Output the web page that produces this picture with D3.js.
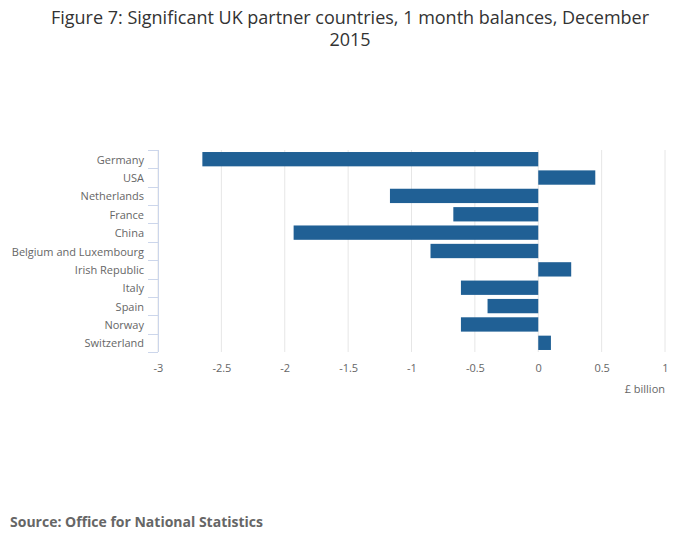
<!DOCTYPE html>
<html>
<head>
<meta charset="utf-8">
<script src="https://cdn.jsdelivr.net/npm/d3@7"></script>
<style>
  body { margin: 0; background: #fff; }
  text { font-family: "Open Sans", sans-serif; }
</style>
</head>
<body>
<svg id="chart" width="700" height="549"></svg>
<script>
// Data
var countries = ["Germany", "USA", "Netherlands", "France", "China",
  "Belgium and Luxembourg", "Irish Republic", "Italy", "Spain", "Norway", "Switzerland"];
var balances = [-2.65, 0.45, -1.17, -0.67, -1.93, -0.85, 0.26, -0.61, -0.40, -0.61, 0.10];
var xTicks = [-3, -2.5, -2, -1.5, -1, -0.5, 0, 0.5, 1];

var svg = d3.select("#chart");
var plot = {left: 158, right: 665, top: 150, bottom: 352};

var x = d3.scaleLinear().domain([-3, 1]).range([plot.left, plot.right]);
var y = d3.scaleBand().domain(countries).range([plot.top, plot.bottom]).paddingInner(0.22).paddingOuter(0.11);

// title
svg.append("text")
    .attr("x", 350).attr("y", 24)
    .attr("text-anchor", "middle")
    .style("font-size", "18px").style("fill", "#333")
    .text("Figure 7: Significant UK partner countries, 1 month balances, December");
svg.append("text")
    .attr("x", 350).attr("y", 46)
    .attr("text-anchor", "middle")
    .style("font-size", "18px").style("fill", "#333")
    .text("2015");

// gridlines
svg.append("g")
  .selectAll("line")
  .data(xTicks)
  .enter().append("line")
    .attr("x1", function(d) { return x(d); })
    .attr("x2", function(d) { return x(d); })
    .attr("y1", plot.top)
    .attr("y2", plot.bottom)
    .style("stroke", "#e6e6e6")
    .style("stroke-width", 1);

// x axis labels
var xAxis = d3.axisBottom(x).tickValues(xTicks).tickSize(0).tickPadding(0)
    .tickFormat(function(d) { return String(d); });
var gx = svg.append("g")
    .attr("transform", "translate(0," + (plot.bottom + 12) + ")")
    .call(xAxis);
gx.select(".domain").remove();
gx.selectAll("text")
    .attr("dy", "0.71em")
    .style("font-family", "'Open Sans', sans-serif")
    .style("font-size", "11px").style("fill", "#666");

svg.append("text")
    .attr("x", plot.right).attr("y", 393)
    .attr("text-anchor", "end")
    .style("font-size", "11px").style("fill", "#666")
    .text("£ billion");

// bars
svg.append("g")
  .selectAll("rect")
  .data(balances)
  .enter().append("rect")
    .attr("x", function(d) { return x(Math.min(0, d)); })
    .attr("y", function(d, i) { return y(countries[i]); })
    .attr("width", function(d) { return Math.abs(x(d) - x(0)); })
    .attr("height", y.bandwidth())
    .style("fill", "#206095");

// y axis: line, ticks between categories, labels
var step = y.step();
var yAxisG = svg.append("g");
yAxisG.append("line")
    .attr("x1", plot.left + 0.5).attr("x2", plot.left + 0.5)
    .attr("y1", plot.top).attr("y2", plot.bottom)
    .style("stroke", "#ccd6eb");
yAxisG.selectAll(".tk")
  .data(d3.range(countries.length + 1))
  .enter().append("line")
    .attr("class", "tk")
    .attr("x1", plot.left - 10).attr("x2", plot.left)
    .attr("y1", function(i) { return Math.round(plot.top + i * step) + 0.5; })
    .attr("y2", function(i) { return Math.round(plot.top + i * step) + 0.5; })
    .style("stroke", "#ccd6eb");

var yAxis = d3.axisLeft(y).tickSize(0).tickPadding(14);
var gy = svg.append("g")
    .attr("transform", "translate(" + plot.left + ",1)")
    .call(yAxis);
gy.select(".domain").remove();
gy.selectAll("text")
    .style("font-family", "'Open Sans', sans-serif")
    .style("font-size", "11px").style("fill", "#666");

// source
svg.append("text")
    .attr("x", 10).attr("y", 527)
    .style("font-size", "14px").style("font-weight", "bold").style("fill", "#666")
    .text("Source: Office for National Statistics");
</script>
</body>
</html>
